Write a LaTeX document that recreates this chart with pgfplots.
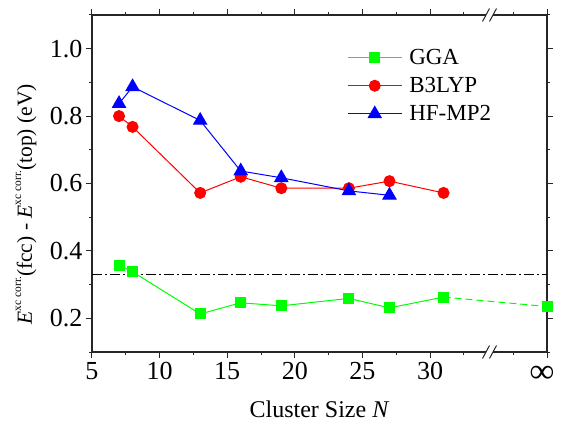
\documentclass[border=0pt]{standalone}
\usepackage{fontspec}
\setmainfont{Liberation Serif}
\usepackage{pgfplots}
\pgfplotsset{compat=1.18}
\usetikzlibrary{calc}

\pgfplotsset{
  legend image code/.code={\draw[mark repeat=2,mark phase=2,#1] plot coordinates {(0bp,0bp) (27bp,0bp) (54bp,0bp)};
    \path (59bp,0bp);},
}
\newcommand{\xcsup}{\raisebox{0.5em}{\fontsize{11.5bp}{12bp}\selectfont xc corr.}}

\begin{document}
\begin{tikzpicture}
\begin{axis}[
    scale only axis,
    width=455bp, height=337bp,
    xmin=5, xmax=38.65,
    ymin=0.1, ymax=1.1,
    clip=false,
    axis line style={black!85, line width=1.1bp},
    tick style={black!85, line width=1bp},
    tick align=outside,
    major tick length=6bp, minor tick length=3bp,
    xtick={5,10,15,20,25,30},
    minor xtick={7.5,12.5,17.5,22.5,27.5,32.5,36.2},
    extra x ticks={38.65},
    extra x tick labels={\textbf{∞}},
    extra x tick style={xticklabel style={font=\fontsize{34bp}{34bp}\selectfont, xshift=-5bp, yshift=-4bp}},
    ytick={0.2,0.4,0.6,0.8,1.0},
    minor ytick={0.1,0.3,0.5,0.7,0.9,1.1},
    xticklabel={\pgfmathprintnumber[assume math mode=true]{\tick}},
    yticklabel={\pgfmathprintnumber[assume math mode=true,fixed,fixed zerofill,precision=1]{\tick}},
    tick label style={font=\fontsize{26bp}{30bp}\selectfont},
    xticklabel style={yshift=-1bp},
    label style={font=\fontsize{21.5bp}{26bp}\selectfont},
    xlabel={Cluster Size \textit{N}},
    ylabel={\textit{E}\xcsup(fcc) - \textit{E}\xcsup(top) (eV)},
    xlabel style={font=\fontsize{24bp}{28bp}\selectfont, at={(axis description cs:0.5,0)}, anchor=base, yshift=-65bp},
    ylabel style={at={(axis description cs:-0.145,0.438)}, anchor=center},
    legend style={draw=none, fill=none, font=\fontsize{23bp}{27bp}\selectfont, at={(axis description cs:0.554,0.911)}, anchor=north west, row sep=7.5bp},
    legend cell align=left,
]
% reference level
\addplot[black, line width=1bp, dash pattern=on 10bp off 3bp on 2bp off 3bp, forget plot] coordinates {(5,0.33) (38.65,0.33)};

\addplot[green, line width=1bp, mark=square*, mark size=5bp] coordinates {
    (7,0.358) (8,0.338) (13,0.213) (16,0.246) (19,0.237) (24,0.259) (27,0.231) (31,0.263)};
\addplot[red, line width=1bp, mark=*, mark size=5.5bp] coordinates {
    (7,0.800) (8,0.768) (13,0.572) (16,0.620) (19,0.586) (24,0.586) (27,0.607) (31,0.572)};
\addplot[blue, line width=1bp, mark=triangle*, mark size=7.5bp] coordinates {
    (7,0.837) (8,0.887) (13,0.787) (16,0.637) (19,0.617) (24,0.578) (27,0.565)};
\legend{GGA, B3LYP, HF-MP2}

% infinite-size GGA value
\addplot[green, line width=1bp, dash pattern=on 7bp off 4bp, forget plot] coordinates {(31,0.263) (38.65,0.235)};
\addplot[green, only marks, mark=square*, mark size=5bp, forget plot] coordinates {(38.65,0.235)};
\end{axis}
% axis breaks (x = 34.4 in data units)
\coordinate (b1) at ($(current axis.south west)+(397.5bp,0)$);
\coordinate (t1) at ($(current axis.north west)+(397.5bp,0)$);
\foreach \p in {b1,t1}{
  \fill[white] (\p) ++(-3.5bp,-2bp) rectangle ++(7bp,4bp);
  \draw[black!85, line width=1bp] (\p) ++(-7bp,-6.5bp) -- ++(7bp,13bp);
  \draw[black!85, line width=1bp] (\p) ++(0bp,-6.5bp) -- ++(7bp,13bp);
}
\coordinate (sw) at (current axis.south west);
\coordinate (ne) at (current axis.north east);
\pgfresetboundingbox
\path[use as bounding box] ($(sw)+(-92bp,-71bp)$) rectangle ($(ne)+(16bp,15bp)$);
\end{tikzpicture}
\end{document}
